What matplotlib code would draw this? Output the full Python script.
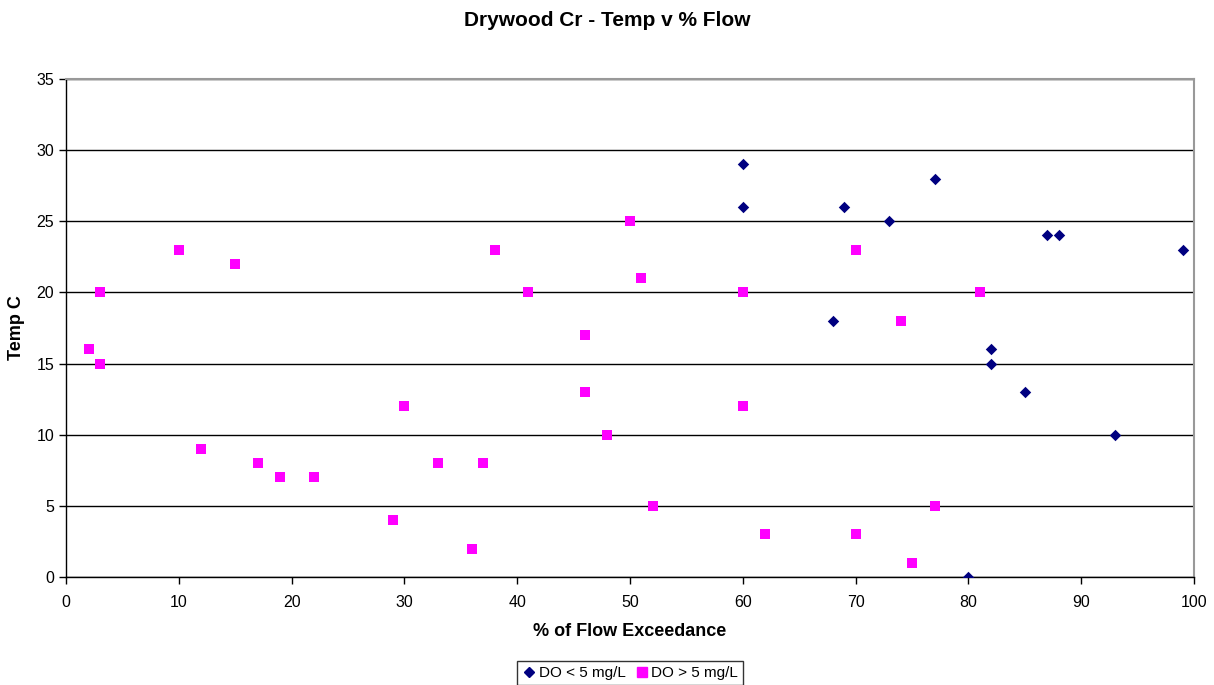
import matplotlib
matplotlib.use("Agg")
import matplotlib.pyplot as plt
from matplotlib.lines import Line2D

plt.rcParams['font.family'] = ['Liberation Sans', 'DejaVu Sans']

low_x = [60, 60, 68, 69, 73, 77, 80, 82, 82, 85, 87, 88, 93, 99]
low_y = [29, 26, 18, 26, 25, 28, 0, 16, 15, 13, 24, 24, 10, 23]

high_x = [2, 3, 3, 10, 12, 15, 17, 19, 22, 29, 30, 33, 36, 37, 38, 41, 46, 46,
          48, 50, 51, 52, 60, 60, 62, 70, 70, 74, 75, 77, 81]
high_y = [16, 20, 15, 23, 9, 22, 8, 7, 7, 4, 12, 8, 2, 8, 23, 20, 17, 13,
          10, 25, 21, 5, 20, 12, 3, 23, 3, 18, 1, 5, 20]

fig = plt.figure(figsize=(12.14, 6.85), dpi=100)
ax = fig.add_axes([0.0544, 0.1577, 0.9291, 0.7270])

ax.scatter(low_x, low_y, marker='D', s=34, color='#000080', linewidths=0, zorder=3)
ax.scatter(high_x, high_y, marker='s', s=52, color='#FF00FF', linewidths=0, zorder=3)

ax.set_xlim(0, 100)
ax.set_ylim(0, 35)
ax.set_xticks(range(0, 101, 10))
ax.set_yticks(range(0, 36, 5))
ax.yaxis.grid(True, color='black', linewidth=1)
ax.set_axisbelow(True)
for s in ['top', 'right']:
    ax.spines[s].set_color('#999999')
    ax.spines[s].set_linewidth(1.5)
for s in ['left', 'bottom']:
    ax.spines[s].set_color('black')
    ax.spines[s].set_linewidth(1)
ax.tick_params(axis='both', direction='out', length=5, width=1, labelsize=11.5, colors='black')
ax.tick_params(axis='x', pad=8)

ax.set_xlabel('% of Flow Exceedance', fontsize=13, fontweight='bold', labelpad=9)
ax.set_ylabel('Temp C', fontsize=13, fontweight='bold', labelpad=8)
fig.text(0.5, 1 - 20 / 685, 'Drywood Cr - Temp v % Flow', fontsize=15,
         fontweight='bold', ha='center', va='center')

handles = [
    Line2D([], [], marker='D', color='#000080', linestyle='none', markersize=5),
    Line2D([], [], marker='s', color='#FF00FF', linestyle='none', markersize=7),
]
leg = fig.legend(handles, ['DO < 5 mg/L', 'DO > 5 mg/L'], loc='center',
                 bbox_to_anchor=(630 / 1214, 1 - 673 / 685), ncol=2, fontsize=11,
                 frameon=True, fancybox=False, edgecolor='black', handletextpad=0.1,
                 columnspacing=0.6, handlelength=1.0, borderpad=0.3)
leg.get_frame().set_linewidth(1)

fig.savefig('out.png', dpi=100)
